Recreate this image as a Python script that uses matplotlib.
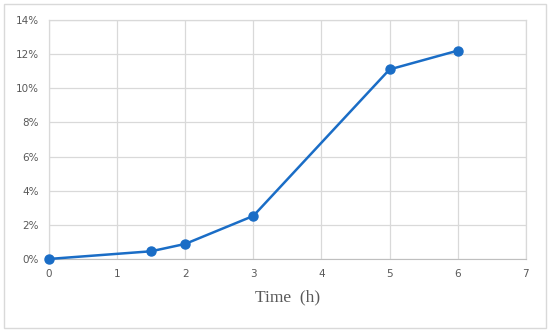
import matplotlib
matplotlib.use('Agg')
import matplotlib.pyplot as plt
from matplotlib.ticker import FuncFormatter
from matplotlib.patches import Rectangle

# data
time_h = [0, 1.5, 2, 3, 5, 6]
growth = [0.0, 0.45, 0.88, 2.52, 11.1, 12.2]  # percent

fig = plt.figure(figsize=(5.5, 3.32), dpi=100)
ax = fig.add_axes([0.089, 0.22, 0.867, 0.72])

ax.plot(time_h, growth, '-o', color='#1a6dc6', lw=1.8, ms=6.5, zorder=3,
        clip_on=False)

ax.set_xlim(0, 7)
ax.set_ylim(0, 14)
ax.set_xticks(range(0, 8))
ax.set_yticks(range(0, 15, 2))
ax.yaxis.set_major_formatter(FuncFormatter(lambda v, p: '%d%%' % v))
ax.grid(True, color='#d9d9d9', lw=0.9)
ax.set_axisbelow(True)
for s in ['top', 'right', 'left']:
    ax.spines[s].set_color('#d9d9d9')
    ax.spines[s].set_linewidth(0.9)
ax.spines['bottom'].set_color('#bfbfbf')
ax.tick_params(length=0, labelsize=7.5, colors='#595959', pad=7)
ax.set_xlabel('Time  (h)', family='Liberation Serif', fontsize=12.5,
              color='#595959', labelpad=8)

# outer chart border
fig.patches.append(Rectangle((0.008, 0.012), 0.984, 0.976, transform=fig.transFigure,
                             fill=False, ec='#d9d9d9', lw=1))

fig.savefig('out.png', dpi=100)
